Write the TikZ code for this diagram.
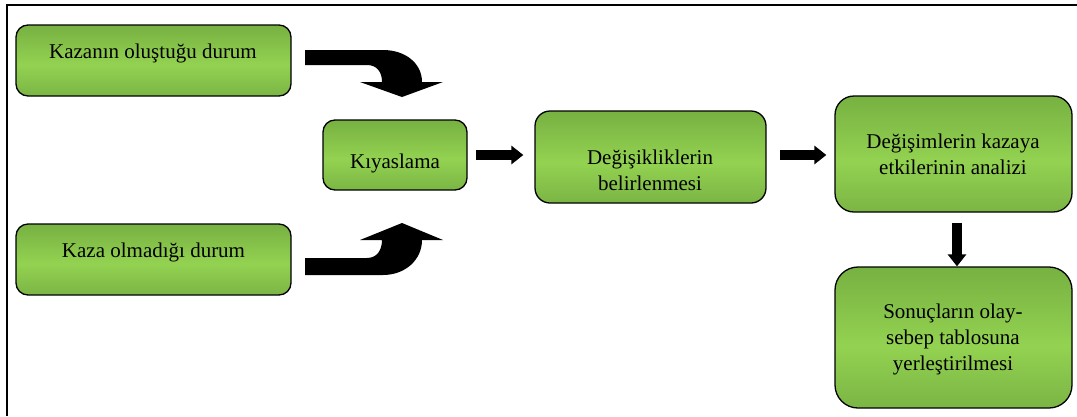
\documentclass[tikz,border=0pt]{standalone}
\usepackage{fontspec}
\setmainfont{Liberation Serif}
\usetikzlibrary{arrows.meta}
\definecolor{gtop}{HTML}{77B142}
\definecolor{gbot}{HTML}{7BB545}
\definecolor{glight}{HTML}{93D251}
\pgfdeclareverticalshading{greenshade}{100bp}{color(0bp)=(gbot); color(25bp)=(gbot); color(47bp)=(glight); color(75bp)=(gtop); color(100bp)=(gtop)}
\tikzset{
  box/.style={draw=black, line width=1.3pt, shading=greenshade, inner sep=0pt},
  txt/.style={font=\fontsize{21}{26}\selectfont, align=center, anchor=base, inner sep=0pt},
  barrow/.style={line width=10pt, -{Triangle[length=12pt,width=18pt]}},
  blk/.style={fill=black}
}
\begin{document}
\begin{tikzpicture}[x=1pt,y=-1pt]
\useasboundingbox (0,0) rectangle (1077,416);
\draw[line width=2pt] (1077,5) -- (7,5) -- (7,416);

\node[box, rounded corners=12pt, minimum width=275pt, minimum height=71pt] (a) at (153.5,60.5) {};
\node[box, rounded corners=12pt, minimum width=275pt, minimum height=71pt] (b) at (153.5,259.5) {};
\node[box, rounded corners=12pt, minimum width=144pt, minimum height=70pt] (kiy) at (395,155) {};
\node[box, rounded corners=15pt, minimum width=231pt, minimum height=92pt] (b2) at (650.5,157) {};
\node[box, rounded corners=19pt, minimum width=237pt, minimum height=116pt] (b3) at (953.5,154) {};
\node[box, rounded corners=23pt, minimum width=237pt, minimum height=141pt] (b4) at (953.5,337.5) {};

\node[txt] (ta) at (153,58) {Kazanın oluştuğu durum};
\node[txt] (tb) at (153.5,257) {Kaza olmadığı durum};
\node[txt] (tk) at (395,168) {Kıyaslama};
\node[txt] (t2) at (650,190) {Değişikliklerin\\belirlenmesi};
\node[txt] (t3) at (953,174) {Değişimlerin kazaya\\etkilerinin analizi};
\node[txt] (t4) at (953,370) {Sonuçların olay-\\sebep tablosuna\\yerleştirilmesi};

% curved block arrows
\fill[blk] (305,50) -- (383,50) .. controls (405,50) and (422,63) .. (422,82)
  -- (443,82) -- (402,97) -- (360,82) -- (382,82)
  .. controls (382,72) and (377,65) .. (367,65) -- (305,65) -- cycle;
\fill[blk] (305,275) -- (383,275) .. controls (405,275) and (422,260) .. (422,240)
  -- (443,240) -- (402,223) -- (360,240) -- (382,240)
  .. controls (382,250) and (377,258) .. (367,258) -- (305,258) -- cycle;

% straight block arrows
\draw[barrow] ([xshift=8pt]kiy.east) -- ([xshift=-11pt]b2.west |- kiy.east);
\draw[barrow] ([xshift=13pt,yshift=2pt]b2.east) -- ([xshift=-8pt,yshift=2pt]b3.west |- b2.east);
\draw[barrow] ([xshift=3.5pt,yshift=-10pt]b3.south) -- ([xshift=3.5pt]b4.north);
\end{tikzpicture}
\end{document}
